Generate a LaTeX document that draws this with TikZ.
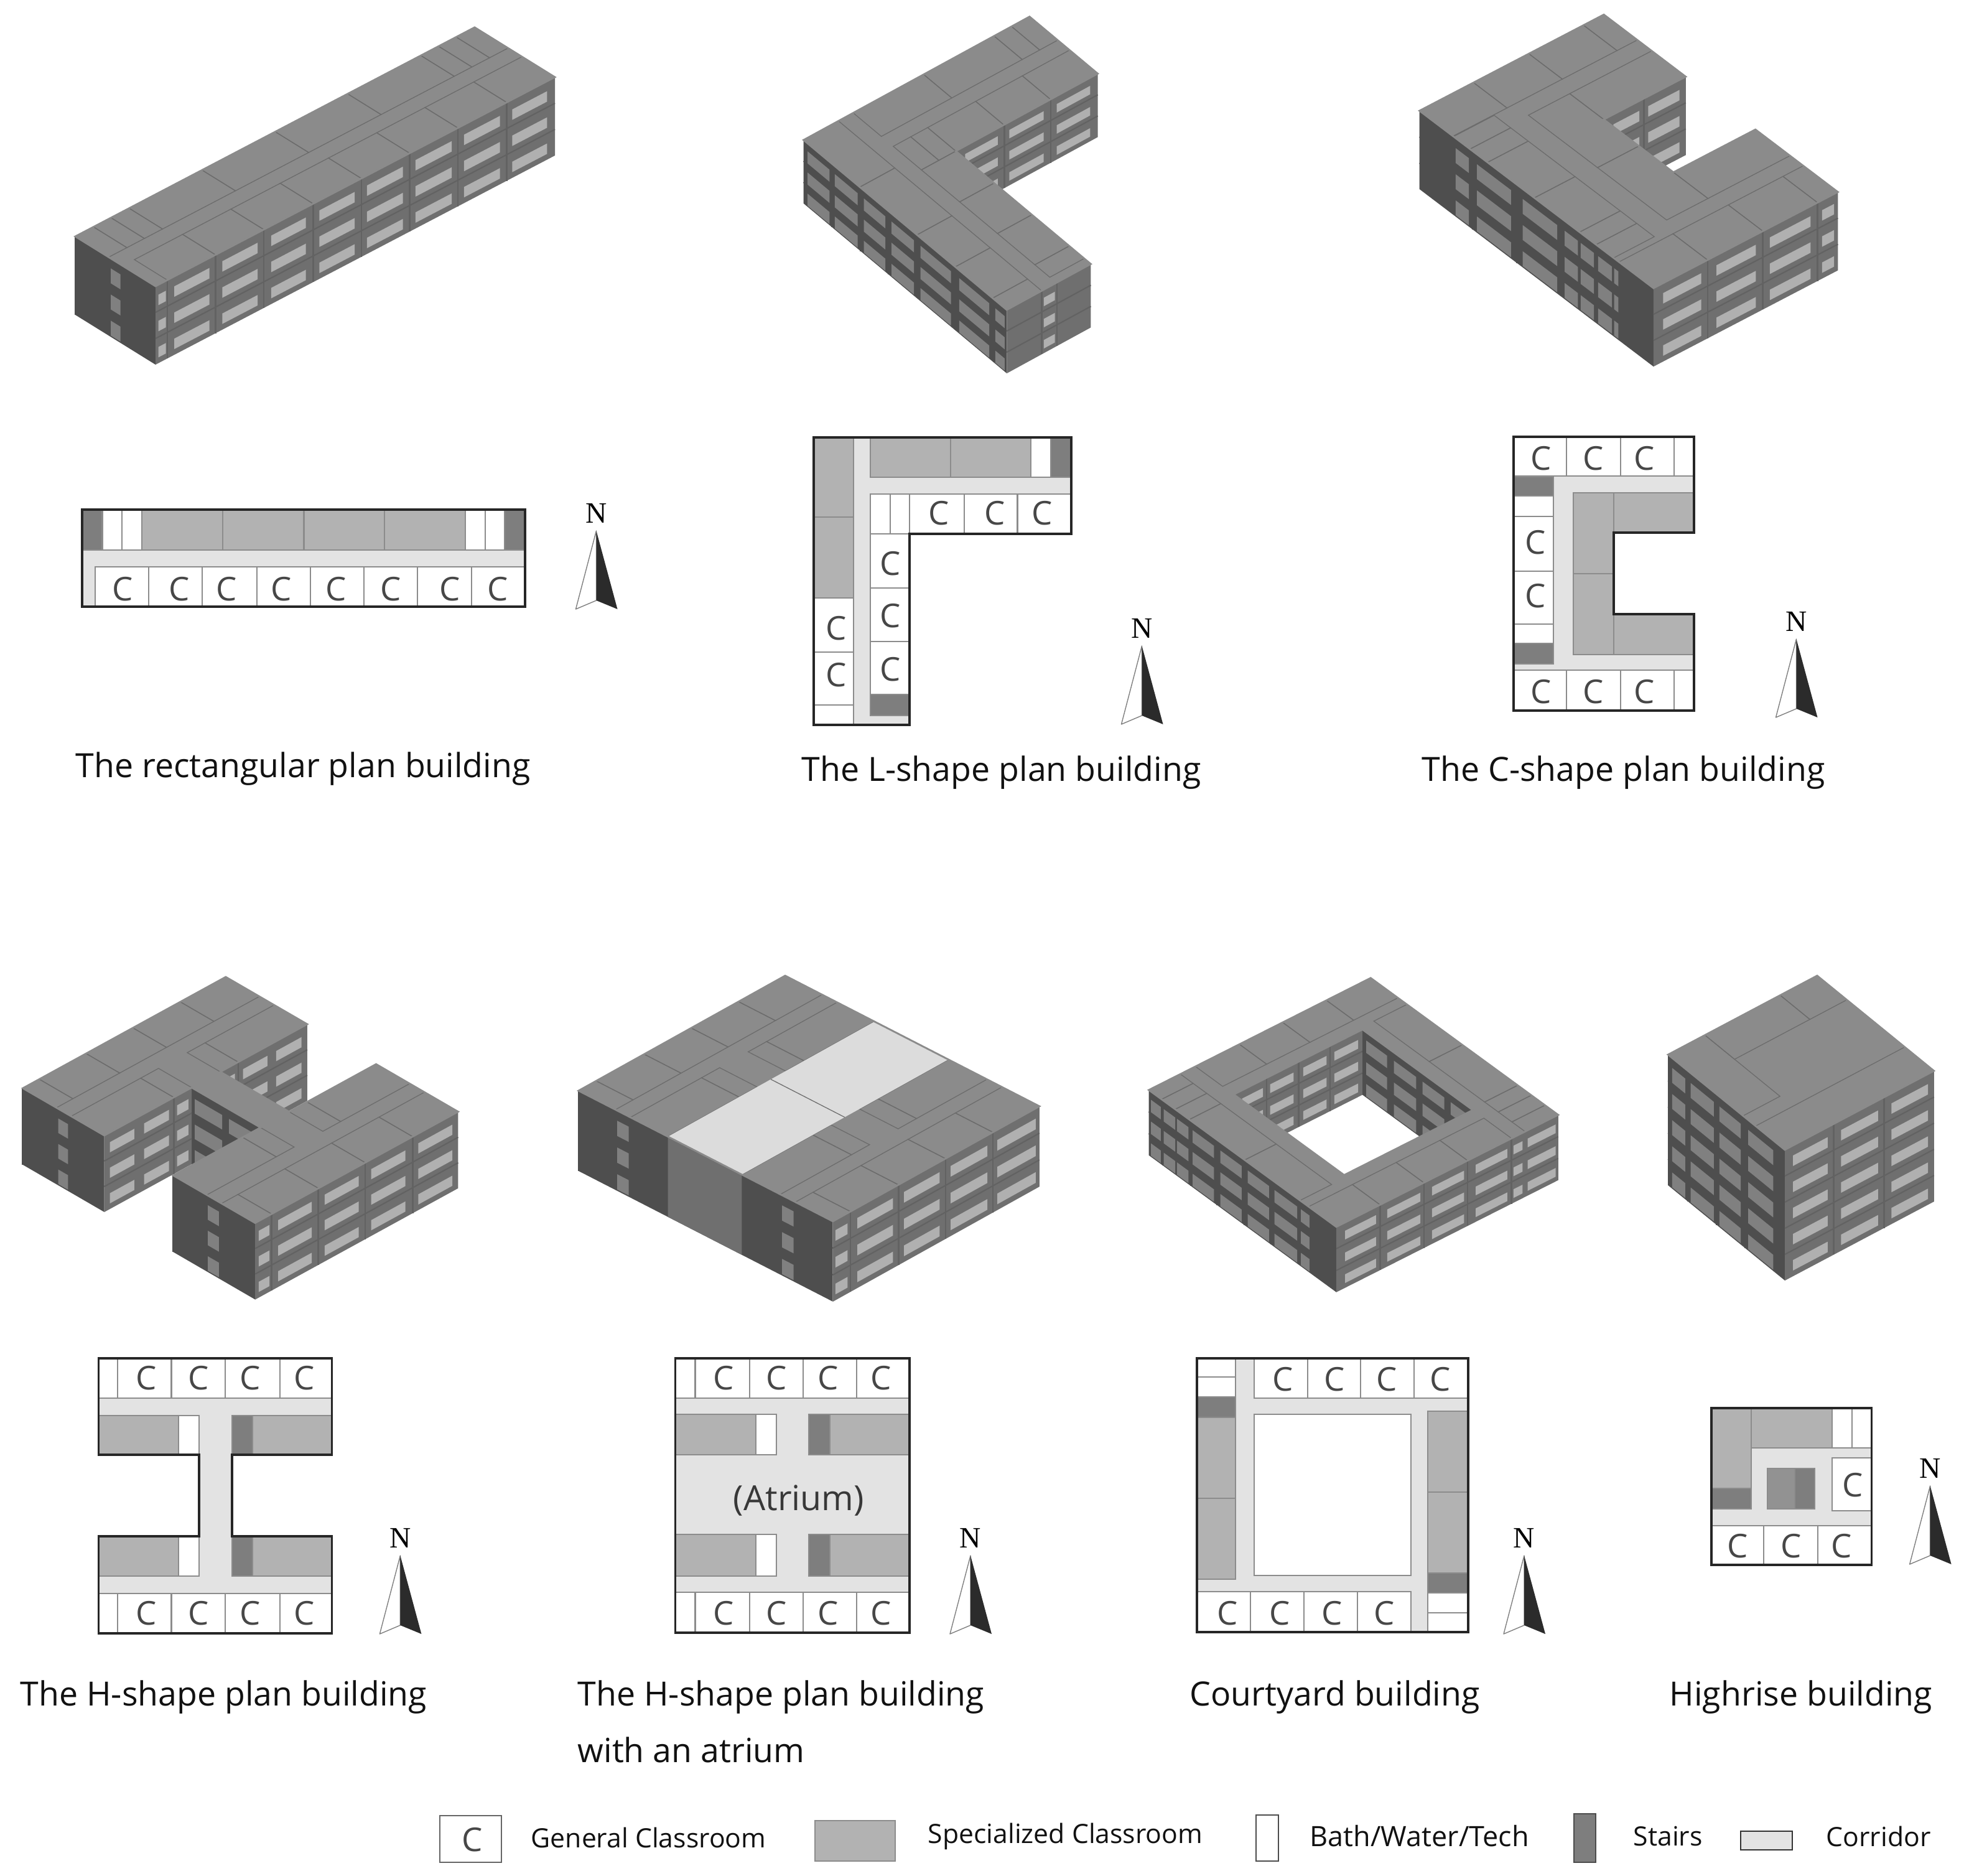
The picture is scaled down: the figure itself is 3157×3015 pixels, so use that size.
\documentclass[tikz,border=0pt]{standalone}
\usepackage{fontspec}
\setmainfont{Open Sans}
\newfontfamily\nfont{Liberation Serif}
\definecolor{cRoof}{HTML}{8B8B8B}
\definecolor{cRoofL}{HTML}{6C6C6C}
\definecolor{cWallS}{HTML}{6F6F6F}
\definecolor{cWinS}{HTML}{B0B0B0}
\definecolor{cLineS}{HTML}{626262}
\definecolor{cWallW}{HTML}{4E4E4E}
\definecolor{cWinW}{HTML}{808080}
\definecolor{cLineW}{HTML}{4E4E4E}
\definecolor{cS}{HTML}{B2B2B2}
\definecolor{cT}{HTML}{7E7E7E}
\definecolor{cK}{HTML}{929292}
\definecolor{cCor}{HTML}{E3E3E3}
\definecolor{cAtr}{HTML}{DCDCDC}
\definecolor{cB}{HTML}{8C8C8C}
\definecolor{cTxt}{HTML}{111111}
\tikzset{
 room/.style={draw=cB,line width=0.6pt},
 roomS/.style={room,fill=cS},
 roomT/.style={room,fill=cT},
 roomK/.style={room,fill=cK},
 roomB/.style={room,fill=white},
 roomC/.style={room,fill=white},
 corr/.style={fill=cCor},
 outerline/.style={draw=black!85,line width=1.0pt,line join=miter},
 roofline/.style={draw=cRoofL,line width=0.36pt},
 clabel/.style={text=black!72,font=\fontsize{15}{18}\selectfont,inner sep=0pt},
 lab/.style={text=cTxt,font=\fontsize{15.25}{18}\selectfont,anchor=west,inner sep=0pt},
 leg/.style={text=cTxt,font=\fontsize{12.15}{15}\selectfont,anchor=west,inner sep=0pt},
 nlab/.style={text=black,font=\nfont\fontsize{13.5}{16}\selectfont,inner sep=0pt},
}
\newcounter{cnt}
\newcommand\Rm{}
\newcommand\Cc{}
\newcommand\planmode{%
 \renewcommand\Rm[5]{\filldraw[##1] (##2,##3) -- (##4,##3) -- (##4,##5) -- (##2,##5) -- cycle;}%
 \renewcommand\Cc[2]{\stepcounter{cnt}\node[clabel] (c\arabic{cnt}) at (##1,##2) {C};}}
\newcommand\roofmode{%
 \renewcommand\Rm[5]{\draw[roofline] (##2,##3) -- (##4,##3) -- (##4,##5) -- (##2,##5) -- cycle;}%
 \renewcommand\Cc[2]{}}
% building frame: O(x,y), plan origin(X,Y), u(x,y), v(x,y), floor height, floors
\newcommand\setbldg[8]{\def\Ox{#1}\def\Oy{#2}\def\Xo{#3}\def\Yo{#4}\def\ux{#5}\def\uy{#6}\def\vx{#7}\def\vy{#8}}
\newcommand\setfl[2]{\def\fh{#1}\def\nfl{#2}\pgfmathtruncatemacro\nm{#2-1}}
\newcommand\wallbody[9]{% wall,win,line,S1,S2,spans,divs,t1,t2
 \fill[#1] (#4,0) -- (#5,0) -- (#5,\nfl) -- (#4,\nfl) -- cycle;
 \foreach \k in {1,...,\nm} {\draw[#3,line width=0.6pt] (#4,\k) -- (#5,\k);}
 \foreach \d in {#7} {\draw[#3,line width=0.7pt] (\d,0) -- (\d,\nfl);}
 \foreach \a/\b in {#6} {\foreach \k in {0,...,\nm} {
   \fill[#2] (\a,{\k+#8}) -- (\b,{\k+#8}) -- (\b,{\k+#9}) -- (\a,{\k+#9}) -- cycle;}}
}
\newcommand\swall[5]{% Y,X1,X2,spans,divs
 \begin{scope}[shift={({\Ox-\Xo*(\ux)+(#1-\Yo)*(\vx)},{\Oy-\Xo*(\uy)+(#1-\Yo)*(\vy)})},
   x={({\ux*0.01cm},{-1*(\uy)*0.01cm})},y={(0pt,{-1*\fh*0.01cm})}]
  \wallbody{cWallS}{cWinS}{cLineS}{#2}{#3}{#4}{#5}{0.38}{0.78}
 \end{scope}}
\newcommand\wwall[5]{% X,Y1,Y2,spans,divs
 \begin{scope}[shift={({\Ox+(#1-\Xo)*(\ux)-\Yo*(\vx)},{\Oy+(#1-\Xo)*(\uy)-\Yo*(\vy)})},
   x={({\vx*0.01cm},{-1*(\vy)*0.01cm})},y={(0pt,{-1*\fh*0.01cm})}]
  \wallbody{cWallW}{cWinW}{cLineW}{#2}{#3}{#4}{#5}{0.38}{0.95}
 \end{scope}}
\newcommand\wmid[3]{% X,Y1,Y2 : plain mid-grey west wall
 \begin{scope}[shift={({\Ox+(#1-\Xo)*(\ux)-\Yo*(\vx)},{\Oy+(#1-\Xo)*(\uy)-\Yo*(\vy)})},
   x={({\vx*0.01cm},{-1*(\vy)*0.01cm})},y={(0pt,{-1*\fh*0.01cm})}]
  \fill[cWallS] (#2,0) -- (#3,0) -- (#3,\nfl) -- (#2,\nfl) -- cycle;
 \end{scope}}
\newcommand\drawroof[3]{\roofmode
 \begin{scope}[shift={({\Ox-\Xo*(\ux)-\Yo*(\vx)},{\Oy-\Xo*(\uy)-\Yo*(\vy)})},
   x={({\ux*0.01cm},{-1*(\uy)*0.01cm})},y={({\vx*0.01cm},{-1*(\vy)*0.01cm})}]
  \fill[cRoof,even odd rule] #1;
  #2
  #3
  \draw[cRoof,line width=0.8pt] #1;
 \end{scope}}
\newcommand\drawplan[3]{\planmode
 \fill[corr,even odd rule] #1;
 #3
 \draw[outerline] #2;}
\newcommand\narrow[2]{\stepcounter{cnt}%
 \filldraw[fill=white,draw=black!50,line width=0.4pt,line join=round] (#1,#2) -- ({#1-33},{#2+126}) -- (#1,{#2+112}) -- cycle;
 \fill[black!83] (#1,#2) -- ({#1+34},{#2+126}) -- (#1,{#2+112}) -- cycle;
 \node[nlab] (n\arabic{cnt}) at (#1,{#2-28}) {N};}
% ---------- rectangular
\def\footA{(132,819) -- (844,819) -- (844,975) -- (132,975) -- cycle}
\def\roomsA{%
 \Rm{roomT}{132}{819}{164.5}{884}\Rm{roomB}{164.5}{819}{195.7}{884}\Rm{roomB}{195.7}{819}{228}{884}
 \Rm{roomS}{228}{819}{358}{884}\Rm{roomS}{358}{819}{488.5}{884}\Rm{roomS}{488.5}{819}{617.6}{884}\Rm{roomS}{617.6}{819}{748}{884}
 \Rm{roomB}{748}{819}{779.6}{884}\Rm{roomB}{779.6}{819}{811}{884}\Rm{roomT}{811}{819}{844}{884}
 \Rm{roomC}{153}{911}{239}{975}\Rm{roomC}{239}{911}{325}{975}\Rm{roomC}{325}{911}{413}{975}\Rm{roomC}{413}{911}{499}{975}
 \Rm{roomC}{499}{911}{585}{975}\Rm{roomC}{585}{911}{671}{975}\Rm{roomC}{671}{911}{758}{975}\Rm{roomC}{758}{911}{844}{975}
 \Cc{197}{947}\Cc{288}{947}\Cc{364}{947}\Cc{452}{947}\Cc{540}{947}\Cc{628}{947}\Cc{723}{947}\Cc{800}{947}}
% ---------- L
\def\footB{(1308,703) -- (1722,703) -- (1722,858) -- (1462,858) -- (1462,1165) -- (1308,1165) -- cycle}
\def\roomsB{%
 \Rm{roomS}{1308}{703}{1372}{831}\Rm{roomS}{1308}{831}{1372}{961}\Rm{roomC}{1308}{961}{1372}{1048}\Rm{roomC}{1308}{1048}{1372}{1133}\Rm{roomB}{1308}{1133}{1372}{1165}
 \Rm{roomS}{1399}{703}{1528}{767}\Rm{roomS}{1528}{703}{1657}{767}\Rm{roomB}{1657}{703}{1689}{767}\Rm{roomT}{1689}{703}{1722}{767}
 \Rm{roomB}{1399}{794}{1431}{858}\Rm{roomB}{1431}{794}{1462}{858}\Rm{roomC}{1462}{794}{1550}{858}\Rm{roomC}{1550}{794}{1635.5}{858}\Rm{roomC}{1635.5}{794}{1722}{858}
 \Rm{roomC}{1399}{858}{1462}{945}\Rm{roomC}{1399}{945}{1462}{1031}\Rm{roomC}{1399}{1031}{1462}{1116}\Rm{roomT}{1399}{1116}{1462}{1150}
 \Cc{1509}{825}\Cc{1599}{825}\Cc{1675.5}{825}\Cc{1431}{906}\Cc{1431}{990}\Cc{1431}{1076}\Cc{1344.5}{1010}\Cc{1344.5}{1085}}
% ---------- C
\def\footC{(2433,702) -- (2723,702) -- (2723,856) -- (2594,856) -- (2594,987) -- (2723,987) -- (2723,1142) -- (2433,1142) -- cycle}
\def\roomsC{%
 \Rm{roomC}{2433}{702}{2518}{765}\Rm{roomC}{2518}{702}{2605}{765}\Rm{roomC}{2605}{702}{2691}{765}\Rm{roomB}{2691}{702}{2723}{765}
 \Rm{roomT}{2433}{766}{2497}{797}\Rm{roomB}{2433}{797}{2497}{830}\Rm{roomC}{2433}{830}{2497}{918}\Rm{roomC}{2433}{918}{2497}{1003}\Rm{roomB}{2433}{1003}{2497}{1034}\Rm{roomT}{2433}{1034}{2497}{1067}
 \Rm{roomS}{2529}{792}{2594}{922}\Rm{roomS}{2529}{922}{2594}{1052}\Rm{roomS}{2594}{792}{2723}{856}\Rm{roomS}{2594}{987}{2723}{1052}
 \Rm{roomC}{2433}{1077}{2518}{1142}\Rm{roomC}{2518}{1077}{2605}{1142}\Rm{roomC}{2605}{1077}{2691}{1142}\Rm{roomB}{2691}{1077}{2723}{1142}
 \Cc{2477}{737}\Cc{2561}{737}\Cc{2643.5}{737}\Cc{2468.5}{872}\Cc{2468.5}{958}\Cc{2477}{1112}\Cc{2561}{1112}\Cc{2643.5}{1112}}
% ---------- H
\def\footD{(158.6,2183) -- (533.6,2183) -- (533.6,2338) -- (373,2338) -- (373,2469) -- (533.6,2469) -- (533.6,2625) -- (158.6,2625) -- (158.6,2469) -- (320,2469) -- (320,2338) -- (158.6,2338) -- cycle}
\def\roomsD{%
 \Rm{roomB}{158.6}{2183}{189}{2247}\Rm{roomC}{189}{2183}{275.5}{2247}\Rm{roomC}{275.5}{2183}{362}{2247}\Rm{roomC}{362}{2183}{449.6}{2247}\Rm{roomC}{449.6}{2183}{533.6}{2247}
 \Rm{roomS}{158.6}{2275}{287}{2338}\Rm{roomB}{287}{2275}{320}{2338}\Rm{roomT}{373}{2275}{406}{2338}\Rm{roomS}{406}{2275}{533.6}{2338}
 \Rm{roomS}{158.6}{2469}{287}{2533}\Rm{roomB}{287}{2469}{320}{2533}\Rm{roomT}{373}{2469}{406}{2533}\Rm{roomS}{406}{2469}{533.6}{2533}
 \Rm{roomB}{158.6}{2561}{189}{2625}\Rm{roomC}{189}{2561}{275.5}{2625}\Rm{roomC}{275.5}{2561}{362}{2625}\Rm{roomC}{362}{2561}{449.6}{2625}\Rm{roomC}{449.6}{2561}{533.6}{2625}
 \Cc{235}{2215}\Cc{319}{2215}\Cc{402}{2215}\Cc{489}{2215}\Cc{235}{2593}\Cc{319}{2593}\Cc{402}{2593}\Cc{489}{2593}}
% ---------- H with atrium
\def\footE{(1085.4,2183) -- (1462,2183) -- (1462,2624) -- (1085.4,2624) -- cycle}
\def\roomsE{%
 \Rm{roomB}{1085.4}{2183}{1117.5}{2247}\Rm{roomC}{1117.5}{2183}{1205}{2247}\Rm{roomC}{1205}{2183}{1290.7}{2247}\Rm{roomC}{1290.7}{2183}{1377}{2247}\Rm{roomC}{1377}{2183}{1462}{2247}
 \Rm{roomS}{1085.4}{2273}{1215}{2338}\Rm{roomB}{1215}{2273}{1248}{2338}\Rm{roomT}{1300}{2273}{1333.6}{2338}\Rm{roomS}{1333.6}{2273}{1462}{2338}
 \Rm{roomS}{1085.4}{2466}{1215}{2533}\Rm{roomB}{1215}{2466}{1248}{2533}\Rm{roomT}{1300}{2466}{1333.6}{2533}\Rm{roomS}{1333.6}{2466}{1462}{2533}
 \Rm{roomB}{1085.4}{2559}{1117.5}{2624}\Rm{roomC}{1117.5}{2559}{1205}{2624}\Rm{roomC}{1205}{2559}{1290.7}{2624}\Rm{roomC}{1290.7}{2559}{1377}{2624}\Rm{roomC}{1377}{2559}{1462}{2624}
 \Cc{1163}{2215}\Cc{1248}{2215}\Cc{1331}{2215}\Cc{1416}{2215}\Cc{1163}{2593}\Cc{1248}{2593}\Cc{1331}{2593}\Cc{1416}{2593}}
% ---------- courtyard
\def\footFo{(1924,2183) -- (2360,2183) -- (2360,2623) -- (1924,2623) -- cycle}
\def\footF{(1924,2183) -- (2360,2183) -- (2360,2623) -- (1924,2623) -- cycle (2015.6,2273) -- (2268.4,2273) -- (2268.4,2532) -- (2015.6,2532) -- cycle}
\def\roomsF{%
 \Rm{roomB}{1924}{2183}{1986}{2213}\Rm{roomB}{1924}{2213}{1986}{2245}\Rm{roomT}{1924}{2245}{1986}{2278}\Rm{roomS}{1924}{2278}{1986}{2408}\Rm{roomS}{1924}{2408}{1986}{2538}
 \Rm{roomC}{2015.6}{2183}{2102}{2247}\Rm{roomC}{2102}{2183}{2187}{2247}\Rm{roomC}{2187}{2183}{2273}{2247}\Rm{roomC}{2273}{2183}{2360}{2247}
 \Rm{roomB}{2015.6}{2273}{2268.4}{2532}
 \Rm{roomS}{2295}{2268}{2360}{2398}\Rm{roomS}{2295}{2398}{2360}{2528}\Rm{roomT}{2295}{2528}{2360}{2560}\Rm{roomB}{2295}{2560}{2360}{2592}\Rm{roomB}{2295}{2592}{2360}{2623}
 \Rm{roomC}{1924}{2558}{2010}{2623}\Rm{roomC}{2010}{2558}{2096}{2623}\Rm{roomC}{2096}{2558}{2182}{2623}\Rm{roomC}{2182}{2558}{2268.4}{2623}
 \Cc{2062}{2217}\Cc{2145.6}{2217}\Cc{2229}{2217}\Cc{2315}{2217}\Cc{1973}{2593}\Cc{2057}{2593}\Cc{2141}{2593}\Cc{2225}{2593}}
% ---------- highrise
\def\footG{(2751,2263) -- (3008.5,2263) -- (3008.5,2515) -- (2751,2515) -- cycle}
\def\roomsG{%
 \Rm{roomS}{2751}{2263}{2814.7}{2392}\Rm{roomT}{2751}{2392}{2814.7}{2425}
 \Rm{roomS}{2814.7}{2263}{2944.7}{2327}\Rm{roomB}{2944.7}{2263}{2976.6}{2327}\Rm{roomB}{2976.6}{2263}{3008.5}{2327}
 \Rm{roomK}{2841}{2360}{2885}{2425}\Rm{roomT}{2885}{2360}{2917}{2425}
 \Rm{roomC}{2944.7}{2343}{3008.5}{2428}
 \Rm{roomC}{2751}{2452}{2835.4}{2515}\Rm{roomC}{2835.4}{2452}{2922.3}{2515}\Rm{roomC}{2922.3}{2452}{3008.5}{2515}
 \Cc{2978}{2387}\Cc{2793}{2485}\Cc{2879}{2485}\Cc{2960.6}{2485}}
\def\roofG{%
 \Rm{roomS}{2751}{2263}{2814.7}{2425}
 \Rm{roomS}{2814.7}{2263}{2944.7}{2327}
 \Rm{roomC}{2944.7}{2263}{3008.5}{2327}
 \Rm{roomC}{2751}{2452}{3008.5}{2515}}
\begin{document}
\begin{tikzpicture}[x=0.01cm,y=-0.01cm]
\useasboundingbox (0,0) rectangle (3157,3015);
\fill[white] (0,0) rectangle (3157,3015);

% ===== plans =====
\drawplan{\footA}{\footA}{\roomsA}
\drawplan{\footB}{\footB}{\roomsB}
\drawplan{\footC}{\footC}{\roomsC}
\drawplan{\footD}{\footD}{\roomsD}
\drawplan{\footE}{\footE}{\roomsE}
\node[text=black!78,font=\fontsize{15.8}{18}\selectfont,inner sep=0pt] (atrium) at (1284,2411) {(Atrium)};
\drawplan{\footF}{\footFo}{\roomsF}
\drawplan{\footG}{\footG}{\roomsG}

% ===== north arrows =====
\narrow{958.5}{853}
\narrow{1835.5}{1038}
\narrow{2887.5}{1027}
\narrow{643.4}{2500}
\narrow{1560}{2500}
\narrow{2450}{2500}
\narrow{3102.6}{2388}

% ===== rectangular building =====
\setbldg{121}{380}{132}{819}{.9017}{-.472}{.827}{.513}\setfl{42}{3}
\wwall{132}{819}{975}{888/907}{819}
\swall{975}{132}{844}{137/150.5,165.5/228,251/314,338/400,424/487,509/573,595.5/660,682/746,768/830}{153,239,325,413,499,585,671,758}
\drawroof{\footA}{\roomsA}{}

% ===== L building =====
\setbldg{1291.7}{225}{1308}{703}{.8776}{-.479}{.707}{.591}\setfl{34}{3}
\swall{858}{1462}{1722}{1479/1539,1560/1623,1647/1708}{1551,1636}
\wwall{1308}{703}{1165}{712/762,774/826,840/889,903/954,969/1038,1057/1125,1139/1160}{768,833,896,961,1047,1132}
\swall{1165}{1308}{1462}{1376/1396}{1372,1400}
\drawroof{\footB}{\roomsB}{}

% ===== C building =====
\setbldg{2281.7}{178}{2433}{702}{1.022}{-.533}{.855}{.648}\setfl{42}{3}
\swall{856}{2594}{2723}{2609/2650,2664/2713}{2657}
\wwall{2433}{702}{1142}{770/795,810/874,896/961,975/1000,1005/1030,1038/1064,1068/1076}{802,885,968}
\swall{1142}{2433}{2723}{2448/2508,2532/2594,2616/2680,2698/2717}{2518,2605,2691}
\drawroof{\footC}{\roomsC}{}

% ===== H building =====
\setbldg{36.7}{1749}{158.6}{2183}{.87}{-.477}{.845}{.49}\setfl{41}{3}
\swall{2338}{373}{533.6}{385/400,415/460,476/523}{406}
\wwall{320}{2338}{2469}{2344/2396,2409/2466}{2401}
\wwall{158.6}{2183}{2338}{2250.5/2269}{2183}
\swall{2338}{158.6}{320}{169/214,232/278,293/314}{287}
\wwall{158.6}{2469}{2625}{2535/2556}{2469}
\swall{2625}{158.6}{533.6}{165/185,201/263,287/350,373/436,460/523}{189,275,362,449.6}
\drawroof{\footD}{\roomsD}{}

% ===== H with atrium =====
\setbldg{930}{1753}{1085.4}{2183}{.882}{-.491}{.927}{.476}\setfl{43}{3}
\wwall{1085.4}{2183}{2624}{2250/2270,2536/2556}{2183}
\wmid{1085.4}{2338}{2466}
\swall{2624}{1085.4}{1462}{1090/1112,1130/1195,1215/1280,1300/1367,1385/1455}{1117.5,1205,1290.7,1377}
\drawroof{\footE}{\roomsE}{%
 \fill[cAtr] (1085.4,2338) -- (1462,2338) -- (1462,2466) -- (1085.4,2466) -- cycle;
 \draw[roofline] (1273,2338) -- (1273,2466);}

% ===== courtyard =====
\setbldg{1846.7}{1751.7}{1924}{2183}{.818}{-.413}{.685}{.5}\setfl{35}{3}
\swall{2273}{2015.6}{2268.4}{2032/2073,2087/2133,2152/2198,2213/2260}{2080,2143,2205}
\wwall{2268.4}{2273}{2532}{2282/2331,2347/2399,2414/2465,2480/2530}{2339,2407,2472}
\wwall{1924}{2183}{2623}{2188/2211,2218/2245,2249/2276,2286/2336,2351/2401,2415/2465,2478/2531,2540/2560}{2216,2246,2281,2343,2407,2470,2534}
\swall{2623}{1924}{2360}{1941/2002,2024/2089,2112/2175,2198/2260,2272/2290,2300/2355}{2010,2096,2182,2268}
\drawroof{\footF}{\roomsF}{}

% ===== highrise =====
\setbldg{2681.3}{1695}{2751}{2263}{.931}{-.493}{.745}{.607}\setfl{42}{5}
\wwall{2751}{2263}{2515}{2272/2300,2312/2362,2374/2420,2436/2490}{2306,2368,2430}
\swall{2515}{2751}{3008.5}{2765/2825,2848/2912,2935/2998}{2835.4,2922.3}
\drawroof{\footG}{\roofG}{}

% ===== captions =====
\node[lab] (t1) at (121,1236) {The rectangular plan building};
\node[lab] (t2) at (1288,1242) {The L-shape plan building};
\node[lab] (t3) at (2285,1242) {The C-shape plan building};
\node[lab] (t4) at (32,2728) {The H-shape plan building};
\node[lab] (t5) at (928,2728) {The H-shape plan building};
\node[lab] (t5b) at (928,2812) {with an atrium};
\node[lab] (t6) at (1912,2728) {Courtyard building};
\node[lab] (t7) at (2683,2728) {Highrise building};

% ===== legend =====
\filldraw[fill=white,draw=black!60,line width=0.5pt] (707,2918) -- (806,2918) -- (806,2993) -- (707,2993) -- cycle;
\node[clabel] (legC) at (759,2957) {C};
\node[leg] (l1) at (853,2953) {General Classroom};
\filldraw[fill=cS,draw=cB,line width=0.5pt] (1310,2926) -- (1439,2926) -- (1439,2991) -- (1310,2991) -- cycle;
\node[leg] (l2) at (1491,2951) {Specialized Classroom};
\filldraw[fill=white,draw=black!70,line width=0.5pt] (2019,2917) -- (2055,2917) -- (2055,2991) -- (2019,2991) -- cycle;
\node[leg,font=\fontsize{12.8}{15}\selectfont] (l3) at (2105,2951) {Bath/Water/Tech};
\filldraw[fill=cT,draw=black!70,line width=0.5pt] (2530,2915) -- (2565,2915) -- (2565,2993) -- (2530,2993) -- cycle;
\node[leg] (l4) at (2625,2951) {Stairs};
\filldraw[fill=cCor,draw=black!80,line width=0.5pt] (2798,2943) -- (2881,2943) -- (2881,2973) -- (2798,2973) -- cycle;
\node[leg] (l5) at (2935,2951) {Corridor};
\end{tikzpicture}
\end{document}
